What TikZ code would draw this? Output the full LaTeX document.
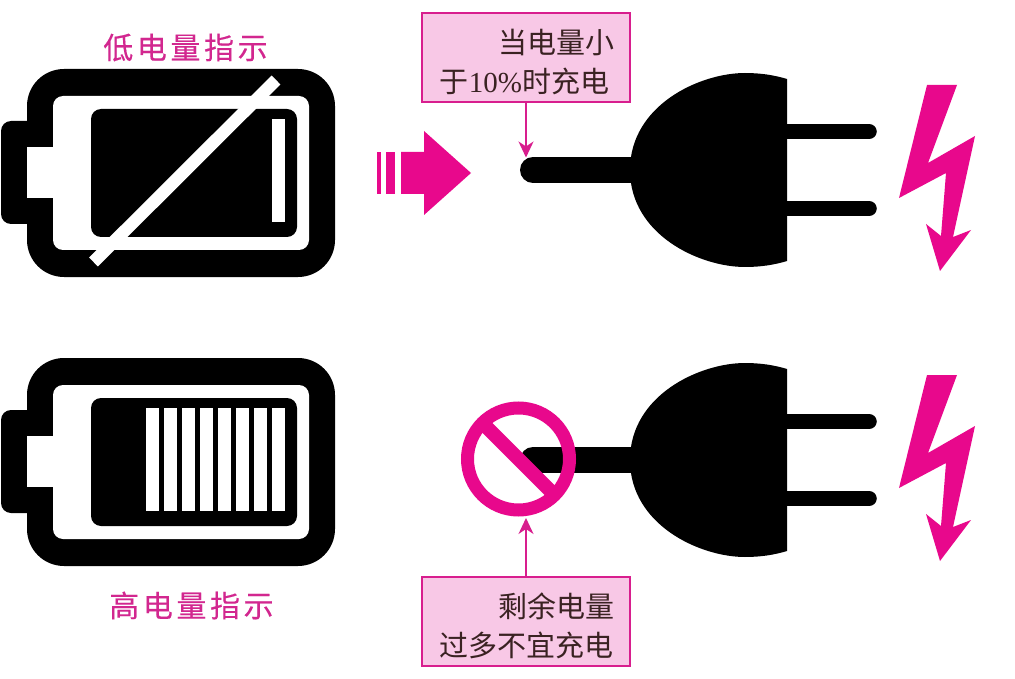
\documentclass[tikz,border=0pt]{standalone}
\usepackage{fontspec}
\setmainfont{Noto Sans CJK SC}
\newfontfamily\latinserif{Liberation Serif}
\usetikzlibrary{arrows.meta}
\definecolor{mag}{HTML}{E8088C}
\definecolor{labelmag}{HTML}{D2278F}
\definecolor{boxfill}{HTML}{F8C8E6}
\definecolor{boxline}{HTML}{D81E8E}
\definecolor{boxtext}{HTML}{3A2222}
\tikzset{
  x=1pt,y=-1pt,
  heading/.style={font=\fontsize{30}{30}\selectfont\addfontfeatures{LetterSpace=12,FakeBold=0.3},text=labelmag,inner sep=0pt},
  callout/.style={draw=boxline,line width=1.8pt,fill=boxfill,minimum width=208pt,minimum height=89pt,text width=176pt,inner xsep=16pt,inner ysep=0pt,align=right,text=boxtext,font=\fontsize{29}{38.5}\selectfont},
  pointer/.style={draw=boxline,fill=boxline,line width=2pt,-{Stealth[length=16pt,width=15pt,inset=5pt]}},
  battery/.pic={
    \fill[black,rounded corners=10pt] (50,121) -- (1,121) -- (1,224) -- (50,224) -- cycle;
    \fill[black,rounded corners=37pt] (27,69) rectangle (335,277);
    \fill[white,rounded corners=10pt] (53,96) rectangle (309,250);
    \fill[white] (27,147) rectangle (60,198);
    \fill[black,rounded corners=10pt] (91,109) rectangle (297,237);
  },
  plug/.pic={
    \draw[black,line width=26pt,line cap=round] (533,170) -- (650,170);
    \draw[black,line width=15.5pt,line cap=round] (770,131.5) -- (869,131.5);
    \draw[black,line width=15.5pt,line cap=round] (770,208.5) -- (869,208.5);
    \fill[black] (787,79) .. controls (774,75) and (760,73) .. (745,73)
      .. controls (700,73) and (630,105) .. (630,170)
      .. controls (630,235) and (700,267) .. (745,267)
      .. controls (760,267) and (774,265) .. (787,261) -- cycle;
  },
  bolt/.pic={
    \fill[mag] (927,85) -- (957,85) -- (928,163) -- (975,136) -- (953,237) -- (971,230)
      -- (940,271) -- (926,224) -- (941,236) -- (946,173) -- (899,198) -- cycle;
  }
}
\begin{document}
\begin{tikzpicture}
\useasboundingbox (0,0) rectangle (1015,679);
\fill[white] (0,0) rectangle (1015,679);

% upper battery
\pic at (0,0) {battery};
\fill[white] (272,119) rectangle (285,222);
\draw[white,line width=12.5pt] (93.5,262) -- (276,80);
\node[heading] (lowlabel) at (185.5,47.5) {低电量指示};

% lower battery
\pic at (0,289) {battery};
\foreach \bx in {146,164,182,200,218,236,254,272}
  \fill[white] (\bx,408) rectangle (\bx+13,511);
\node[heading] (highlabel) at (191.5,605.5) {高电量指示};

% block arrow
\fill[mag] (377,152) rectangle (381,194);
\fill[mag] (386,152) rectangle (395,194);
\fill[mag] (401,152) -- (424,152) -- (424,131) -- (471,173) -- (424,215) -- (424,194) -- (401,194) -- cycle;

% plugs and bolts
\pic at (0,0) {plug};
\pic at (0,290) {plug};
\pic at (0,0) {bolt};
\pic at (0,290) {bolt};

% prohibition sign
\node[circle,draw=mag,line width=13pt,minimum size=102pt,inner sep=0pt] (ban) at (518.5,459) {};
\draw[mag,line width=14pt] (ban.north west) ++(4,4) -- ([shift={(-4,-4)}]ban.south east);

% callouts
\node[callout] (box1) at (526,57.5) {\rule{0pt}{33pt}当电量小\\\mbox{于{\latinserif 10\%}时充电\kern5pt}};
\node[callout] (box2) at (526,621.5) {\rule{0pt}{33pt}剩余电量\\\mbox{过多不宜充电\kern1pt}};
\coordinate (cordtip) at (526,157.5);
\draw[pointer] (box1.south) -- (cordtip);
\draw[pointer,shorten >=1.5pt] (box2.north) -- (box2.north |- ban.south);
\end{tikzpicture}
\end{document}
